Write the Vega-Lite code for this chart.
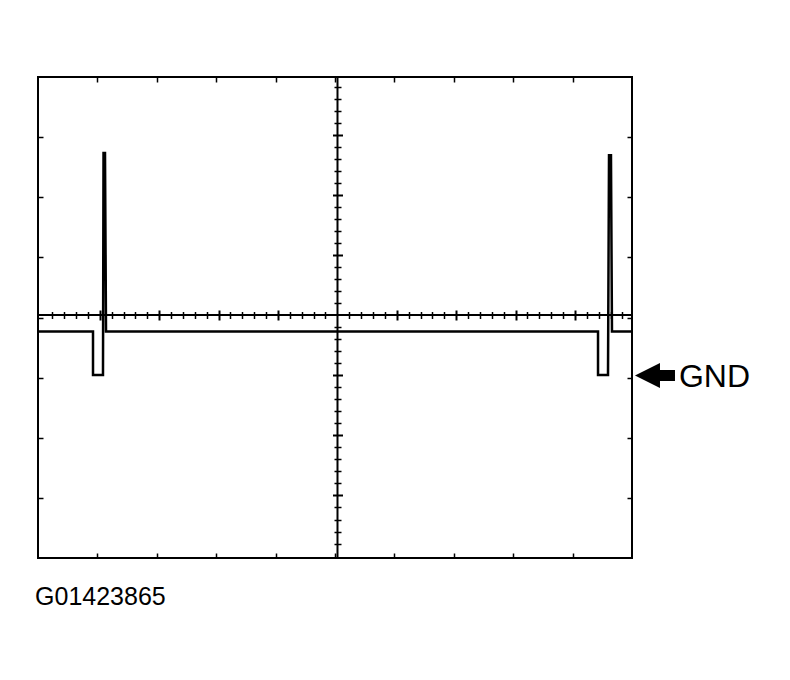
{
  "$schema": "https://vega.github.io/schema/vega-lite/v6.json",
  "width": 594,
  "height": 481,
  "autosize": {"type": "none"},
  "padding": {"left": 38, "top": 77, "right": 158, "bottom": 122},
  "background": "white",
  "config": {
    "view": {"stroke": "black", "strokeWidth": 2},
    "axis": {"labels": false, "grid": false, "domain": false, "title": null, "tickColor": "black", "tickWidth": 1.5}
  },
  "datasets": {
    "signal": [
      {"seq": 0, "x": 0, "y": -0.233},
      {"seq": 1, "x": 0.926, "y": -0.233},
      {"seq": 2, "x": 0.926, "y": -0.956},
      {"seq": 3, "x": 1.094, "y": -0.956},
      {"seq": 4, "x": 1.103, "y": 2.736},
      {"seq": 5, "x": 1.128, "y": 2.736},
      {"seq": 6, "x": 1.145, "y": -0.233},
      {"seq": 7, "x": 9.428, "y": -0.233},
      {"seq": 8, "x": 9.428, "y": -0.956},
      {"seq": 9, "x": 9.596, "y": -0.956},
      {"seq": 10, "x": 9.613, "y": 2.7},
      {"seq": 11, "x": 9.646, "y": 2.7},
      {"seq": 12, "x": 9.663, "y": -0.233},
      {"seq": 13, "x": 10, "y": -0.233}
    ],
    "cross": [
      {"x": 5.042, "y": -4, "x2": 5.042, "y2": 4},
      {"x": 0, "y": 0.042, "x2": 10, "y2": 0.042}
    ],
    "arrow": [{"x": 10.387, "y": -0.965}],
    "code": [{"x": -0.05, "y": -4.78, "label": "G01423865"}],
    "gnd": [{"x": 10.79, "y": -1.156, "label": "GND"}]
  },
  "layer": [
    {
      "data": {"name": "cross"},
      "mark": {"type": "rule", "color": "black", "strokeWidth": 2},
      "encoding": {
        "x": {"field": "x", "type": "quantitative", "scale": {"domain": [0, 10], "nice": false, "zero": false},
              "axis": {"orient": "bottom", "values": [1, 2, 3, 4, 5, 6, 7, 8, 9], "tickSize": -5}},
        "x2": {"field": "x2"},
        "y": {"field": "y", "type": "quantitative", "scale": {"domain": [-4, 4], "nice": false, "zero": false},
              "axis": {"orient": "left", "values": [-3, -2, -1, 0, 1, 2, 3], "tickSize": -5}},
        "y2": {"field": "y2"}
      }
    },
    {
      "data": {"name": "signal"},
      "mark": {"type": "line", "color": "black", "strokeWidth": 2.5, "strokeJoin": "miter"},
      "encoding": {
        "x": {"field": "x", "type": "quantitative", "scale": {"domain": [0, 10], "nice": false, "zero": false},
              "axis": {"orient": "top", "values": [1, 2, 3, 4, 5, 6, 7, 8, 9], "tickSize": -5}},
        "y": {"field": "y", "type": "quantitative", "scale": {"domain": [-4, 4], "nice": false, "zero": false},
              "axis": {"orient": "right", "values": [-3, -2, -1, 0, 1, 2, 3], "tickSize": -5}},
        "order": {"field": "seq", "type": "quantitative"}
      }
    },
    {
      "data": {"name": "arrow"},
      "mark": {"type": "point", "shape": "M -1 0 L 0.25 -0.625 L 0.25 -0.275 L 1 -0.275 L 1 0.275 L 0.25 0.275 L 0.25 0.625 Z", "filled": true, "size": 1600, "color": "black", "opacity": 1, "strokeWidth": 0},
      "encoding": {
        "x": {"field": "x", "type": "quantitative", "scale": {"domain": [0, 10], "nice": false, "zero": false},
              "axis": {"orient": "bottom", "offset": -246.5, "tickSize": 7,
                       "values": [0.24, 0.44, 0.64, 0.84, 1.24, 1.44, 1.64, 1.84, 2.24, 2.44, 2.64, 2.84, 3.24, 3.44, 3.64, 3.84, 4.24, 4.44, 4.64, 4.84, 5.24, 5.44, 5.64, 5.84, 6.24, 6.44, 6.64, 6.84, 7.24, 7.44, 7.64, 7.84, 8.24, 8.44, 8.64, 8.84, 9.24, 9.44, 9.64, 9.84]}},
        "y": {"field": "y", "type": "quantitative", "scale": {"domain": [-4, 4], "nice": false, "zero": false},
              "axis": {"orient": "left", "offset": -303, "tickSize": 7,
                       "values": [-3.76, -3.56, -3.36, -3.16, -2.76, -2.56, -2.36, -2.16, -1.76, -1.56, -1.36, -1.16, -0.76, -0.56, -0.36, -0.16, 0.24, 0.44, 0.64, 0.84, 1.24, 1.44, 1.64, 1.84, 2.24, 2.44, 2.64, 2.84, 3.24, 3.44, 3.64, 3.84]}}
      }
    },
    {
      "data": {"name": "code"},
      "mark": {"type": "text", "align": "left", "baseline": "alphabetic", "font": "Liberation Sans", "fontSize": 25, "color": "black"},
      "encoding": {
        "x": {"field": "x", "type": "quantitative", "scale": {"domain": [0, 10], "nice": false, "zero": false},
              "axis": {"orient": "bottom", "offset": -248, "tickSize": 10, "tickWidth": 2,
                       "values": [1.04, 2.04, 3.04, 4.04, 6.04, 7.04, 8.04, 9.04]}},
        "y": {"field": "y", "type": "quantitative", "scale": {"domain": [-4, 4], "nice": false, "zero": false},
              "axis": {"orient": "left", "offset": -304.5, "tickSize": 10, "tickWidth": 2,
                       "values": [-2.96, -1.96, -0.96, 1.04, 2.04, 3.04]}},
        "text": {"field": "label"}
      }
    },
    {
      "data": {"name": "gnd"},
      "mark": {"type": "text", "align": "left", "baseline": "alphabetic", "font": "Liberation Sans", "fontSize": 32, "color": "black"},
      "encoding": {
        "x": {"field": "x", "type": "quantitative", "scale": {"domain": [0, 10], "nice": false, "zero": false}, "axis": null},
        "y": {"field": "y", "type": "quantitative", "scale": {"domain": [-4, 4], "nice": false, "zero": false}, "axis": null},
        "text": {"field": "label"}
      }
    }
  ],
  "resolve": {"axis": {"x": "independent", "y": "independent"}}
}
